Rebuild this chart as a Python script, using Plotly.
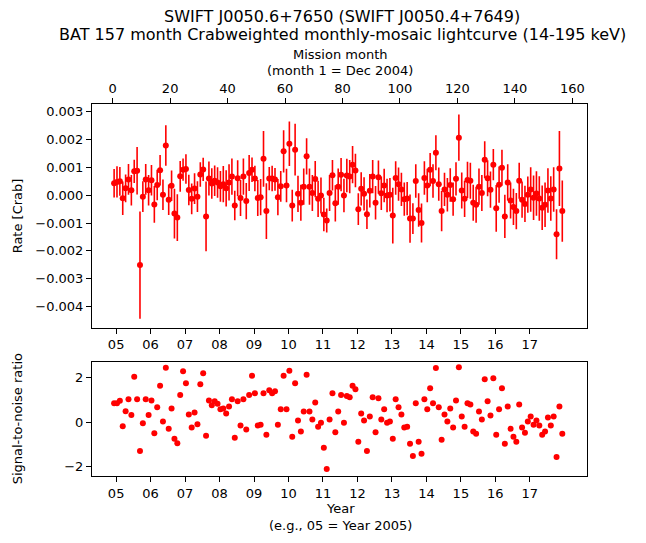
import numpy as np
import plotly.graph_objects as go

months = np.arange(1, 158)

rate_mcrab = [
0.43,0.48,0.50,-0.11,0.25,0.57,0.18,0.86,0.88,-2.51,
-0.05,0.57,0.18,0.54,-0.33,0.37,0.90,0.02,1.79,-0.16,
0.34,-0.66,-0.80,0.68,0.92,0.94,0.19,-0.13,0.24,-0.05,
0.75,0.93,-0.76,0.60,0.42,0.52,0.46,0.32,0.40,0.25,
0.46,0.67,-0.37,0.61,-0.10,0.67,-0.21,0.80,0.92,0.60,
-0.10,-0.07,1.31,-0.57,0.60,0.60,0.57,-0.07,0.32,1.58,
0.35,1.85,-0.37,1.64,0.05,-0.27,0.31,1.40,0.31,0.08,
0.58,-0.13,-0.01,-0.69,-0.91,0.08,0.72,-0.29,0.31,0.74,
-0.01,0.71,0.67,1.10,0.89,-0.50,0.23,0.05,-0.68,0.16,
0.67,-0.27,0.65,0.07,0.35,-0.01,0.02,-0.73,0.62,0.40,
0.21,-0.14,-0.12,-0.84,-0.84,0.51,-0.53,-1.00,0.62,0.35,
0.92,0.51,1.53,0.40,-0.57,0.21,0.02,0.37,-0.14,0.59,
2.07,0.17,-0.13,0.55,0.52,-0.27,-0.34,0.31,0.08,1.28,
0.61,0.20,1.10,-0.47,0.38,0.99,-0.76,0.46,-0.19,-0.42,
-0.57,0.52,-0.16,-0.31,0.02,0.21,-0.09,0.06,-0.12,-0.45,
-0.34,0.17,-0.12,0.21,-1.40,0.96,-0.57]

err_mcrab = [
0.51,0.56,0.52,0.60,0.50,0.55,0.55,0.42,0.85,1.93,
0.55,0.55,0.55,0.55,0.66,0.55,0.55,0.55,0.73,0.55,
0.55,0.89,0.84,0.55,0.40,0.53,0.55,0.55,0.55,0.55,
0.44,0.42,1.25,0.61,0.55,0.55,0.55,0.55,0.65,0.65,
0.65,0.65,0.53,0.65,0.65,0.65,0.65,0.65,0.44,0.46,
0.65,0.65,1.00,1.00,0.42,0.46,0.41,0.65,0.55,0.76,
0.60,0.80,0.57,0.93,0.65,0.65,0.65,0.65,0.65,0.65,
0.65,0.65,0.65,0.60,0.43,0.65,0.55,0.65,0.65,0.60,
0.60,0.60,0.60,0.67,0.60,0.57,0.60,0.60,0.53,0.60,
0.60,0.60,0.60,0.60,0.60,0.60,0.60,1.00,0.60,0.60,
0.60,0.60,0.60,0.87,0.55,0.60,0.60,0.70,0.60,0.60,
0.60,0.60,0.63,0.60,0.72,0.60,0.60,0.60,0.60,0.60,
0.83,0.65,0.65,0.65,0.65,0.65,0.65,0.65,0.65,0.66,
0.65,0.65,0.56,0.84,0.65,0.65,0.78,0.65,0.65,0.65,
0.65,0.65,0.65,0.65,0.65,0.80,0.80,0.80,0.80,0.80,
0.80,0.80,0.80,0.80,0.90,1.35,1.10]

snr = [
0.85,0.85,0.97,-0.18,0.50,1.03,0.32,2.05,1.03,-1.30,
-0.05,1.03,0.32,0.98,-0.50,0.67,1.64,0.03,2.45,-0.29,
0.62,-0.74,-0.95,1.23,2.30,1.76,0.35,-0.24,0.44,-0.09,
1.71,2.21,-0.61,0.98,0.77,0.94,0.83,0.59,0.62,0.39,
0.71,1.03,-0.70,0.94,-0.15,1.03,-0.33,1.23,2.09,1.30,
-0.15,-0.11,1.30,-0.56,1.44,1.30,1.39,-0.11,0.58,2.09,
0.58,2.32,-0.65,1.76,0.08,-0.42,0.48,2.14,0.48,0.12,
0.89,-0.20,-0.02,-1.15,-2.11,0.12,1.30,-0.45,0.48,1.23,
-0.02,1.18,1.12,1.64,1.48,-0.88,0.39,0.08,-1.29,0.26,
1.12,-0.45,1.08,0.12,0.58,-0.02,0.03,-0.74,1.03,0.67,
0.35,-0.24,-0.20,-0.97,-1.52,0.85,-0.88,-1.42,1.03,0.58,
1.53,0.85,2.44,0.67,-0.79,0.35,0.03,0.62,-0.24,0.98,
2.48,0.26,-0.20,0.85,0.80,-0.42,-0.52,0.48,0.12,1.94,
0.94,0.30,1.98,-0.56,0.58,1.53,-0.97,0.71,-0.29,-0.65,
-0.88,0.80,-0.24,-0.47,0.03,0.26,-0.11,0.08,-0.15,-0.56,
-0.42,0.21,-0.15,0.26,-1.56,0.71,-0.52]

year_labels = ["05","06","07","08","09","10","11","12","13","14","15","16","17"]
month_ticks = [0, 20, 40, 60, 80, 100, 120, 140, 160]

rate = np.array(rate_mcrab) * 1e-3
err = np.array(err_mcrab) * 1e-3
xm = months - 0.5
year_pos = [(2000 + int(y) - 2004.9) * 12 for y in year_labels]

FONT = "DejaVu Sans"
RED = "#ff0000"
xr = [-7.2, 165.1]

fig = go.Figure()
fig.add_trace(go.Scatter(
    x=xm, y=rate, mode="markers", xaxis="x", yaxis="y",
    marker=dict(color=RED, size=6),
    error_y=dict(type="data", array=err, color=RED, thickness=1.6, width=0),
    showlegend=False))
fig.add_trace(go.Scatter(
    x=xm, y=snr, mode="markers", xaxis="x2", yaxis="y2",
    marker=dict(color=RED, size=6), showlegend=False))

axis_common = dict(showline=True, linecolor="black", linewidth=1, ticks="outside",
                   ticklen=5, tickcolor="black", showgrid=False, zeroline=False,
                   tickfont=dict(family=FONT, size=13, color="black"))

fig.update_layout(
    width=646, height=543,
    margin=dict(l=91.7, r=59, t=104, b=67),
    plot_bgcolor="white", paper_bgcolor="white",
    font=dict(family=FONT, size=13, color="black"),
    xaxis=dict(range=xr, domain=[0, 1], anchor="y", tickvals=year_pos, ticktext=year_labels,
               mirror=False, **axis_common),
    xaxis3=dict(range=xr, overlaying="x", side="top", anchor="y", tickvals=month_ticks,
                ticktext=[str(v) for v in month_ticks], **axis_common),
    yaxis=dict(range=[-4.76e-3, 3.28e-3], domain=[0.3987, 1], anchor="x",
               tickvals=[0.003, 0.002, 0.001, 0, -0.001, -0.002, -0.003, -0.004],
               ticktext=["0.003", "0.002", "0.001", "0.000", "\u22120.001", "\u22120.002", "\u22120.003", "\u22120.004"],
               mirror=True, **axis_common),
    xaxis2=dict(range=xr, domain=[0, 1], anchor="y2", tickvals=year_pos, ticktext=year_labels,
                mirror=True, **axis_common),
    yaxis2=dict(range=[-2.42, 2.72], domain=[0, 0.307], anchor="x2",
                tickvals=[-2, 0, 2], ticktext=["\u22122", "0", "2"],
                mirror=True, **axis_common),
)

# invisible trace to activate the top axis
fig.add_trace(go.Scatter(x=[xr[0]], y=[0], xaxis="x3", yaxis="y", mode="markers",
                         marker=dict(opacity=0), showlegend=False, hoverinfo="skip"))

def px_y(p):
    return (476 - p) / 372

def px_x(q):
    return (q - 91.7) / 495.3

anns = [
    dict(text="SWIFT J0050.6+7650 (SWIFT J0050.4+7649)", x=px_x(342), y=px_y(16), size=16),
    dict(text="BAT 157 month Crabweighted monthly-mosaic lightcurve (14-195 keV)", x=px_x(342), y=px_y(35), size=16),
    dict(text="Mission month", x=px_x(340), y=px_y(55)),
    dict(text="(month 1 = Dec 2004)", x=px_x(340), y=px_y(70)),
    dict(text="Year", x=px_x(340), y=px_y(509)),
    dict(text="(e.g., 05 = Year 2005)", x=px_x(340), y=px_y(525)),
    dict(text="Rate [Crab]", x=px_x(17), y=px_y(216), textangle=-90),
    dict(text="Signal-to-noise ratio", x=px_x(17), y=px_y(419), textangle=-90),
]
for a in anns:
    size = a.pop("size", 13)
    fig.add_annotation(xref="paper", yref="paper", showarrow=False,
                       xanchor="center", yanchor="middle", borderpad=0,
                       font=dict(family=FONT, size=size, color="black"), **a)

fig.write_html("out.html", config={"displayModeBar": False},
               post_script="document.body.style.margin='0';document.body.style.padding='0';")
